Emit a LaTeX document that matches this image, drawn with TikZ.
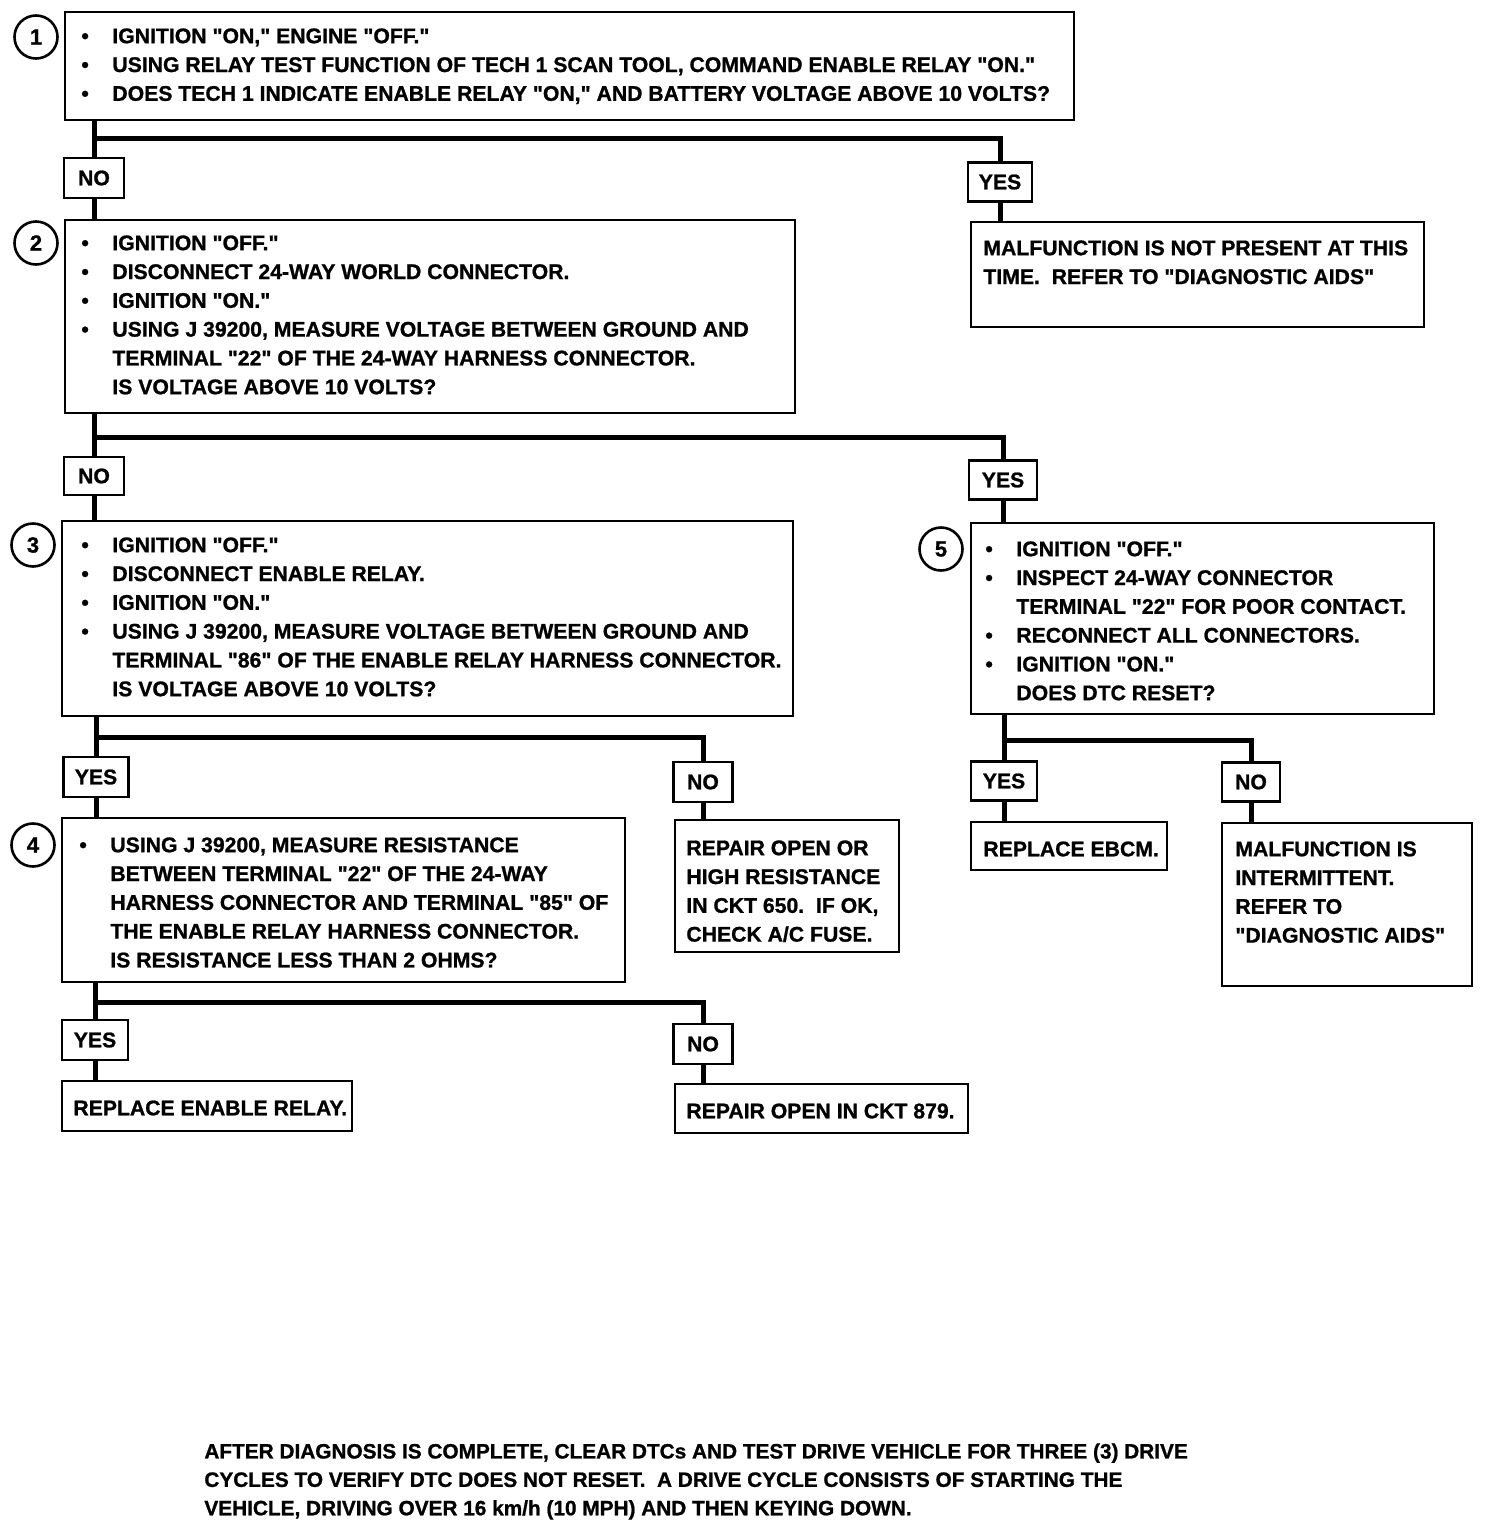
\documentclass[tikz,border=0pt]{standalone}
\usepackage{fontspec}
\setmainfont[FakeStretch=1.0, FakeBold=1, Ligatures=TeXOff]{Liberation Sans}
\usetikzlibrary{fit}
\newcommand\bl{\makebox[15.5pt][l]{\textbullet}}
\newcommand\ind{\hspace*{15.5pt}}
\begin{document}
\begin{tikzpicture}[x=0.5pt,y=-0.5pt,
  boxst/.style={draw, line width=1.4pt, inner sep=0pt},
  lab/.style={draw, line width=1.4pt, inner sep=0pt, font=\bfseries\fontsize{10.6}{14.4}\selectfont},
  conn/.style={line width=2.5pt},
  txt/.style={inner sep=0pt, align=left, font=\bfseries\fontsize{10.6}{14.4}\selectfont},
  notetxt/.style={inner sep=0pt, align=left, font=\bfseries\fontsize{10.4}{14.2}\selectfont},
  num/.style={draw, circle, line width=1.3pt, minimum size=21.5pt, inner sep=0pt, font=\bfseries\fontsize{11}{12}\selectfont}]
\useasboundingbox[fill=white] (0,0) rectangle (1488,1526);

% ---- step 1
\node[boxst, fit={(65,12) (1074,120)}] (b1) {};
\node[num] (c1) at (36,37) {1};
\node[txt, anchor=north west] (t1) at (81,28) {\bl IGNITION "ON," ENGINE "OFF."\\
\bl USING RELAY TEST FUNCTION OF TECH 1 SCAN TOOL, COMMAND ENABLE RELAY "ON."\\
\bl DOES TECH 1 INDICATE ENABLE RELAY "ON," AND BATTERY VOLTAGE ABOVE 10 VOLTS?};
\coordinate (j1) at (93,138);
\node[lab, minimum width=30pt, minimum height=20pt] (n1) at (94,178) {NO};
\node[lab, minimum width=32pt, minimum height=19.5pt] (y1) at (1000,182) {YES};

% ---- step 2
\node[boxst, fit={(65,220) (795,413)}] (b2) {};
\node[num] (c2) at (36,243) {2};
\node[txt, anchor=north west] (t2) at (81,235) {\bl IGNITION "OFF."\\
\bl DISCONNECT 24-WAY WORLD CONNECTOR.\\
\bl IGNITION "ON."\\
\bl USING J 39200, MEASURE VOLTAGE BETWEEN GROUND AND\\
\ind TERMINAL "22" OF THE 24-WAY HARNESS CONNECTOR.\\
\ind IS VOLTAGE ABOVE 10 VOLTS?};
\node[boxst, fit={(971,222) (1424,327)}] (m1) {};
\node[txt, anchor=north west] (tm1) at (983,240) {MALFUNCTION IS NOT PRESENT AT THIS\\
TIME.\ \ REFER TO "DIAGNOSTIC AIDS"};
\coordinate (j2) at (93,437);
\node[lab, minimum width=30pt, minimum height=19pt] (n2) at (94,476) {NO};
\node[lab, minimum width=34pt, minimum height=19.5pt] (y2) at (1003,480) {YES};

% ---- step 3
\node[boxst, fit={(62,521) (793,716)}] (b3) {};
\node[num] (c3) at (33,545) {3};
\node[txt, anchor=north west] (t3) at (81,537) {\bl IGNITION "OFF."\\
\bl DISCONNECT ENABLE RELAY.\\
\bl IGNITION "ON."\\
\bl USING J 39200, MEASURE VOLTAGE BETWEEN GROUND AND\\
\ind TERMINAL "86" OF THE ENABLE RELAY HARNESS CONNECTOR.\\
\ind IS VOLTAGE ABOVE 10 VOLTS?};
\coordinate (j3) at (93,737);
\node[lab, minimum width=32.5pt, minimum height=20pt] (y3) at (96,777) {YES};
\node[lab, minimum width=29.5pt, minimum height=20pt] (n3) at (703,782) {NO};

% ---- step 5
\node[boxst, fit={(971,523) (1434,714)}] (b5) {};
\node[num] (c5) at (941,549) {5};
\node[txt, anchor=north west] (t5) at (985,541) {\bl IGNITION "OFF."\\
\bl INSPECT 24-WAY CONNECTOR\\
\ind TERMINAL "22" FOR POOR CONTACT.\\
\bl RECONNECT ALL CONNECTORS.\\
\bl IGNITION "ON."\\
\ind DOES DTC RESET?};
\coordinate (j5) at (998,740);
\node[lab, minimum width=33pt, minimum height=19.5pt] (y5) at (1004,781) {YES};
\node[lab, minimum width=29pt, minimum height=19.5pt] (n5) at (1251,782) {NO};
\node[boxst, fit={(971,822) (1167,870)}] (r4) {};
\node[txt, anchor=west] (tr4) at (983,849) {REPLACE EBCM.};
\node[boxst, fit={(1222,823) (1472,986)}] (r5) {};
\node[txt, anchor=north west] (tr5) at (1235,841) {MALFUNCTION IS\\
INTERMITTENT.\\
REFER TO\\
"DIAGNOSTIC AIDS"};

% ---- step 4
\node[boxst, fit={(62,818) (625,982)}] (b4) {};
\node[num] (c4) at (33,845) {4};
\node[txt, anchor=north west] (t4) at (79,837) {\bl USING J 39200, MEASURE RESISTANCE\\
\ind BETWEEN TERMINAL "22" OF THE 24-WAY\\
\ind HARNESS CONNECTOR AND TERMINAL "85" OF\\
\ind THE ENABLE RELAY HARNESS CONNECTOR.\\
\ind IS RESISTANCE LESS THAN 2 OHMS?};
\node[boxst, fit={(675,820) (899,952)}] (r1) {};
\node[txt, anchor=north west] (tr1) at (686,840) {REPAIR OPEN OR\\
HIGH RESISTANCE\\
IN CKT 650.\ \ IF OK,\\
CHECK A/C FUSE.};
\coordinate (j4) at (93,1002);
\node[lab, minimum width=33pt, minimum height=20pt] (y4) at (95,1040) {YES};
\node[lab, minimum width=29.5pt, minimum height=20pt] (n4) at (703,1044) {NO};
\node[boxst, fit={(62,1081) (352,1131)}] (r2) {};
\node[txt, anchor=west] (tr2) at (73,1108) {REPLACE ENABLE RELAY.};
\node[boxst, fit={(675,1084) (968,1133)}] (r3) {};
\node[txt, anchor=west] (tr3) at (686,1111) {REPAIR OPEN IN CKT 879.};

% ---- note
\node[notetxt, anchor=north west] (note) at (204,1443) {AFTER DIAGNOSIS IS COMPLETE, CLEAR DTCs AND TEST DRIVE VEHICLE FOR THREE (3) DRIVE\\
CYCLES TO VERIFY DTC DOES NOT RESET.\ \ A DRIVE CYCLE CONSISTS OF STARTING THE\\
VEHICLE, DRIVING OVER 16 km/h (10 MPH) AND THEN KEYING DOWN.};

% ---- connectors
\draw[conn] (n1.north |- b1.south) -- (n1.north) (n1.north |- j1) -| (y1.north);
\draw[conn] (n1.south) -- (n1.south |- b2.north);
\draw[conn] (y1.south) -- (y1.south |- m1.north);
\draw[conn] (n2.north |- b2.south) -- (n2.north) (n2.north |- j2) -| (y2.north);
\draw[conn] (n2.south) -- (n2.south |- b3.north);
\draw[conn] (y2.south) -- (y2.south |- b5.north);
\draw[conn] (y3.north |- b3.south) -- (y3.north) (y3.north |- j3) -| (n3.north);
\draw[conn] (y3.south) -- (y3.south |- b4.north);
\draw[conn] (n3.south) -- (n3.south |- r1.north);
\draw[conn] (y4.north |- b4.south) -- (y4.north) (y4.north |- j4) -| (n4.north);
\draw[conn] (y4.south) -- (y4.south |- r2.north);
\draw[conn] (n4.south) -- (n4.south |- r3.north);
\draw[conn] (y5.north |- b5.south) -- (y5.north) (y5.north |- j5) -| (n5.north);
\draw[conn] (y5.south) -- (y5.south |- r4.north);
\draw[conn] (n5.south) -- (n5.south |- r5.north);
\end{tikzpicture}
\end{document}
